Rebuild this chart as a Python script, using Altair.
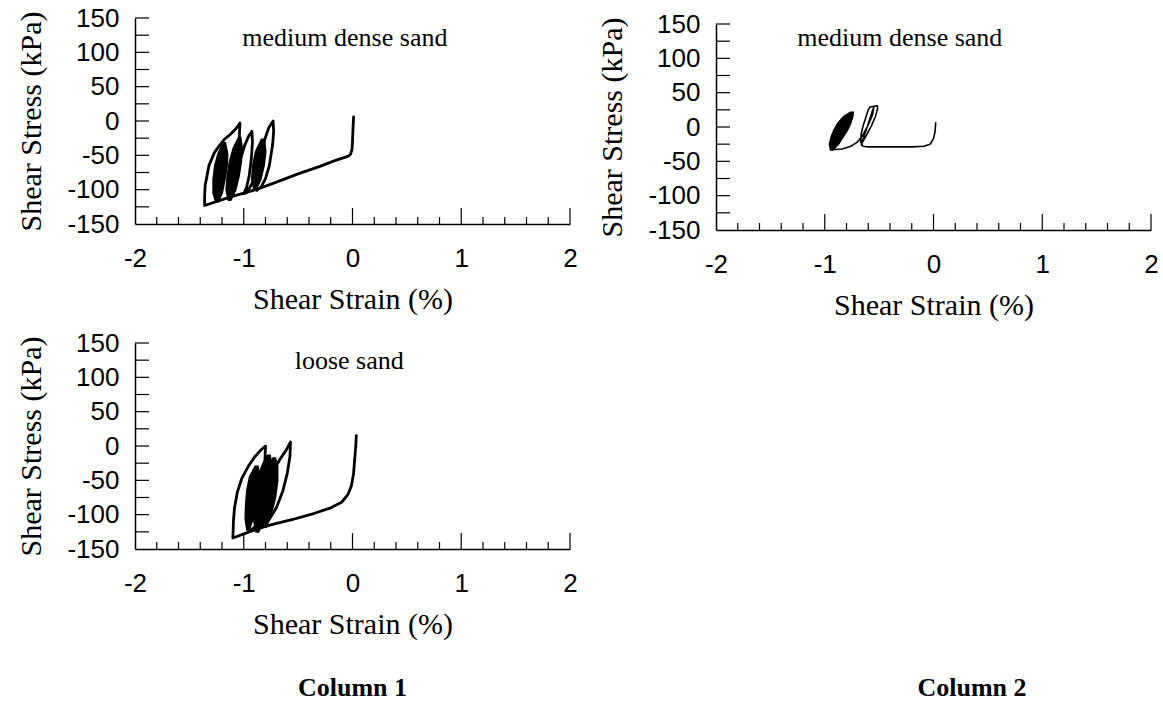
import altair as alt
import pandas as pd

W, H = 435, 206
SANS = "Liberation Sans"
SERIF = "Liberation Serif"

# ---------------- data ----------------
# Column 1, medium dense sand: loading path + open loops
p1_strain = [0.01, 0.005, 0.0, -0.005, -0.02, -0.05, -0.15, -0.3, -0.5, -0.7, -0.87, -1.0, -1.15, -1.36,
             -1.36, -1.355, -1.32, -1.27, -1.22, -1.18, -1.12, -1.07, -1.035,
             -1.04, -1.05, -1.065, -1.085, -1.11, -1.14,
             -1.1, -1.07, -1.03, -0.99, -0.955, -0.925,
             -0.92, -0.93, -0.95, -0.975, -1.0,
             -0.97, -0.92, -0.88, -0.85, -0.81, -0.77, -0.73,
             -0.725, -0.735, -0.765, -0.80, -0.84, -0.88]
p1_stress = [6, -10, -30, -42, -49, -52, -57, -66, -77, -89, -99, -105, -112, -123,
             -110, -94, -65, -46, -35, -27, -19, -11, -3,
             -20, -45, -70, -92, -106, -113,
             -105, -80, -55, -35, -22, -15,
             -30, -55, -80, -97, -106,
             -104, -90, -68, -50, -28, -10, 0,
             -15, -35, -65, -84, -96, -101]
# Column 1, medium dense sand: densely overlapping loops (filled)
p1_leaf_id = ["a"] * 6 + ["b"] * 6 + ["c"] * 5
p1_leaf_stress = [-118, -105, -85, -65, -48, -32,
                  -115, -100, -80, -60, -40, -24,
                  -100, -85, -65, -45, -27]
p1_leaf_left = [-1.255, -1.28, -1.28, -1.265, -1.235, -1.19,
                -1.14, -1.16, -1.15, -1.13, -1.095, -1.045,
                -0.905, -0.925, -0.915, -0.89, -0.835]
p1_leaf_right = [-1.24, -1.2, -1.175, -1.155, -1.15, -1.17,
                 -1.12, -1.075, -1.045, -1.025, -1.015, -1.03,
                 -0.89, -0.845, -0.815, -0.80, -0.81]

# Column 2, medium dense sand
p2_strain = [0.02, 0.015, 0.0, -0.03, -0.09, -0.2, -0.35, -0.5, -0.6, -0.65,
             -0.67, -0.665, -0.645, -0.62, -0.6, -0.585, -0.55, -0.515, -0.515, -0.535,
             -0.57, -0.61, -0.645, -0.665, -0.65, -0.62, -0.59, -0.565, -0.55, -0.56,
             -0.6, -0.65, -0.7, -0.76, -0.84, -0.93]
p2_stress = [6, -6, -17, -25, -28, -29, -29, -29, -29, -28,
             -22, -10, 3, 15, 25, 29, 30, 31, 26, 15,
             2, -10, -20, -26, -18, -5, 10, 22, 28, 18,
             3, -12, -22, -28, -32, -33]
p2_leaf_id = ["a"] * 7
p2_leaf_stress = [-33, -25, -15, -5, 5, 15, 21]
p2_leaf_left = [-0.945, -0.955, -0.94, -0.915, -0.88, -0.825, -0.765]
p2_leaf_right = [-0.93, -0.875, -0.835, -0.795, -0.765, -0.745, -0.74]

# Column 1, loose sand
p3_strain = [0.035, 0.03, 0.02, 0.01, -0.01, -0.04, -0.1, -0.2, -0.35, -0.55, -0.78, -0.95, -1.1,
             -1.095, -1.085, -1.06, -1.02, -0.96, -0.9, -0.85, -0.8,
             -0.805, -0.815, -0.83, -0.85, -0.88, -0.93,
             -0.88, -0.84, -0.8, -0.74, -0.67, -0.61, -0.57,
             -0.575, -0.6, -0.64, -0.7, -0.77, -0.85, -0.92]
p3_stress = [15, 0, -20, -40, -58, -70, -82, -90, -98, -107, -116, -125, -134,
             -110, -90, -68, -48, -30, -16, -7, 0,
             -20, -45, -75, -100, -115, -122,
             -118, -95, -65, -40, -20, -6, 6,
             -15, -40, -65, -90, -108, -118, -123]
p3_leaf_id = ["a"] * 6 + ["b"] * 7 + ["c"] * 6
p3_leaf_stress = [-122, -105, -85, -65, -45, -30,
                  -125, -110, -90, -65, -40, -25, -14,
                  -118, -100, -75, -50, -30, -18]
p3_leaf_left = [-0.97, -0.985, -0.98, -0.97, -0.945, -0.895,
                -0.885, -0.905, -0.9, -0.885, -0.86, -0.82, -0.78,
                -0.815, -0.83, -0.82, -0.80, -0.77, -0.73]
p3_leaf_right = [-0.95, -0.915, -0.89, -0.87, -0.865, -0.87,
                 -0.865, -0.82, -0.79, -0.76, -0.745, -0.745, -0.76,
                 -0.795, -0.75, -0.71, -0.69, -0.69, -0.71]

# annotations
ann_text = ["medium dense sand", "medium dense sand", "loose sand"]
ann_strain = [-0.07, -0.31, -0.03]
ann_stress = [121, 130, 124]

column_labels = ["Column 1", "Column 2"]

# axes ticks
X_LABELS = [-2, -1, 0, 1, 2]
Y_LABELS = [-150, -100, -50, 0, 50, 100, 150]
X_MINOR = [-1.8, -1.6, -1.4, -1.2, -0.8, -0.6, -0.4, -0.2, 0.2, 0.4, 0.6, 0.8, 1.2, 1.4, 1.6, 1.8]
X_MAJOR = [-1, 0, 1, 2]
Y_INNER = [-125, -100, -75, -50, -25, 0, 25, 50, 75, 100, 125, 150]

# ---------------- chart helpers ----------------
xs = alt.Scale(domain=[-2, 2], nice=False, zero=False)

xaxis = alt.Axis(values=X_LABELS, title="Shear Strain (%)", ticks=False, grid=False,
                 domainColor="black", domainWidth=1.5,
                 labelFont=SANS, labelFontSize=26, labelColor="black", labelPadding=21,
                 labelExpr="'' + datum.value", labelFlush=False,
                 titleFont=SERIF, titleFontSize=30, titleFontWeight="normal",
                 titleColor="black", titlePadding=13)
yaxis = alt.Axis(values=Y_LABELS, title="Shear Stress (kPa)", ticks=False, grid=False,
                 domainColor="black", domainWidth=1.5,
                 labelFont=SANS, labelFontSize=26, labelColor="black", labelPadding=16,
                 labelExpr="'' + datum.value", labelFlush=False,
                 titleFont=SERIF, titleFontSize=30, titleFontWeight="normal",
                 titleColor="black", titlePadding=20)


def X(f):
    return alt.X(f"{f}:Q", scale=xs, axis=xaxis)


def panel(px, py, lid, ls, ll, lr, k, sw, top=0, title=None):
    ph = H + top
    ys = alt.Scale(domain=[-150, 150], range=[ph, top], nice=False, zero=False)

    def Y(f):
        return alt.Y(f"{f}:Q", scale=ys, axis=yaxis)

    path = pd.DataFrame({"strain": px, "stress": py, "i": list(range(len(px)))})
    leaves = pd.DataFrame({"leaf": lid, "stress": ls, "left": ll, "right": lr})
    ann = pd.DataFrame({"strain": [ann_strain[k]], "stress": [ann_stress[k]], "label": [ann_text[k]]})
    minor = pd.DataFrame({"strain": X_MINOR})
    major = pd.DataFrame({"strain": X_MAJOR})
    yt = pd.DataFrame({"stress": Y_INNER})

    l_minor = alt.Chart(minor).mark_rule(color="black", strokeWidth=1.2).encode(
        x=X("strain"), y=alt.value(ph), y2=alt.value(ph - 7))
    l_major = alt.Chart(major).mark_rule(color="black", strokeWidth=1.2).encode(
        x=X("strain"), y=alt.value(ph), y2=alt.value(ph - 16))
    l_ytick = alt.Chart(yt).mark_rule(color="black", strokeWidth=1.2).encode(
        y=Y("stress"), x=alt.value(0), x2=alt.value(14))
    l_leaf = alt.Chart(leaves).mark_area(orient="horizontal", color="black", stroke="black",
                                         strokeWidth=2, opacity=1).encode(
        y=Y("stress"), x=X("left"), x2=alt.X2("right:Q"), detail="leaf:N")
    l_path = alt.Chart(path).mark_line(color="black", strokeWidth=sw, strokeJoin="round",
                                       strokeCap="round").encode(
        x=X("strain"), y=Y("stress"), order="i:Q")
    l_ann = alt.Chart(ann).mark_text(font=SERIF, fontSize=26, color="black",
                                     align="center", baseline="middle").encode(
        x=X("strain"), y=Y("stress"), text="label:N")
    ch = alt.layer(l_minor, l_major, l_ytick, l_leaf, l_path, l_ann)
    if title is not None:
        return ch.properties(width=W, height=ph, title=title)
    return ch.properties(width=W, height=ph)


col_title = dict(orient="bottom", anchor="middle", frame="group", font=SERIF,
                 fontSize=26, fontWeight="bold", color="black")

p1 = panel(p1_strain, p1_stress, p1_leaf_id, p1_leaf_stress, p1_leaf_left, p1_leaf_right, 0, 2.8)
p2 = panel(p2_strain, p2_stress, p2_leaf_id, p2_leaf_stress, p2_leaf_left, p2_leaf_right, 1, 1.6,
           top=6)
p3 = panel(p3_strain, p3_stress, p3_leaf_id, p3_leaf_stress, p3_leaf_left, p3_leaf_right, 2, 2.8,
           title=alt.TitleParams(column_labels[0], offset=36, **col_title))

spacer = alt.Chart(pd.DataFrame({"label": [column_labels[1]]})).mark_text(opacity=0).encode(
    text="label:N", x=alt.value(0), y=alt.value(0)
).properties(width=540, height=H,
             title=alt.TitleParams(column_labels[1], offset=126, dx=85, **col_title))

row1 = alt.hconcat(p1, p2, spacing=19)
row2 = alt.hconcat(p3, spacer, spacing=15)
chart = alt.vconcat(row1, row2, spacing=10).properties(
    padding={"left": 16, "top": 5, "right": 2, "bottom": 5},
    background="white"
).configure_view(strokeWidth=0, stroke="transparent")

chart.save("out.html", embed_options={"renderer": "svg", "actions": False})
